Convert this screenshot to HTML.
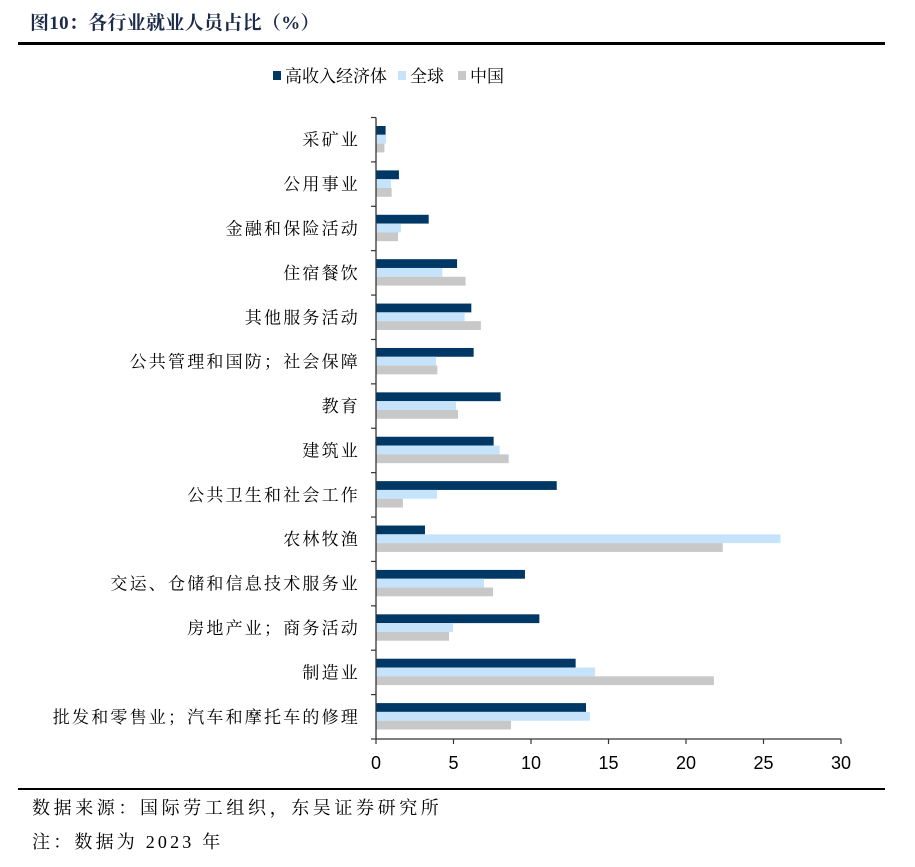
<!DOCTYPE html>
<html><head><meta charset="utf-8">
<style>
body{margin:0;background:#fff;}
#wrap{position:relative;width:915px;height:867px;overflow:hidden;font-family:"Liberation Serif","Noto Serif CJK SC",serif;}
.t{position:absolute;white-space:nowrap;}
</style></head>
<body>
<div id="wrap">
<div class="t" style="left:30px;top:8px;font-size:19px;font-weight:bold;color:#1d2b4a;letter-spacing:0.3px;font-family:'Liberation Serif','Noto Serif CJK SC',serif;">图10：各行业就业人员占比（%）</div>
<div style="position:absolute;left:18px;top:42px;width:867px;height:3px;background:#000;"></div>
<svg id="chart" width="915" height="867" style="position:absolute;left:0;top:0;"></svg>
<div style="position:absolute;left:18px;top:788px;width:867px;height:2px;background:#000;"></div>
<div class="t" style="left:32px;top:794px;font-size:18px;letter-spacing:3.6px;">数据来源：国际劳工组织，东吴证券研究所</div>
<div class="t" style="left:32px;top:828px;font-size:18px;letter-spacing:3.2px;">注：数据为 2023 年</div>
</div>
<script>
const categories=["采矿业","公用事业","金融和保险活动","住宿餐饮","其他服务活动","公共管理和国防；社会保障","教育","建筑业","公共卫生和社会工作","农林牧渔","交运、仓储和信息技术服务业","房地产业；商务活动","制造业","批发和零售业；汽车和摩托车的修理"];
const highIncome=[0.62,1.48,3.4,5.23,6.15,6.3,8.04,7.59,11.66,3.16,9.61,10.54,12.88,13.55];
const world=[0.65,0.97,1.61,4.28,5.72,3.87,5.16,7.98,3.94,26.1,6.97,4.97,14.13,13.8];
const china=[0.54,1.01,1.42,5.78,6.77,3.96,5.29,8.56,1.74,22.37,7.55,4.71,21.8,8.71];
const seriesNames=["高收入经济体","全球","中国"];
const xTicks=[0,5,10,15,20,25,30];

const NS="http://www.w3.org/2000/svg";
const svg=document.getElementById('chart');
const X0=376,X1=841,XMAX=30,YT=117.5,YB=739;
const band=(YB-YT)/categories.length;
function xs(v){return X0+(v/XMAX)*(X1-X0);}
function ys(i){return YT+i*band;}
function mk(tag,attrs){const e=document.createElementNS(NS,tag);for(const k in attrs)e.setAttribute(k,attrs[k]);svg.appendChild(e);return e;}
const colors=["#003865","#c5e4fc","#c8c8c8"];
const series=[highIncome,world,china];
const bh=8.8;
series.forEach((s,si)=>{
  s.forEach((v,i)=>{
    const r=mk('rect',{x:X0,y:ys(i)+band/2-1.5*bh+si*bh-0.5,width:xs(v)-X0,height:bh,fill:colors[si]});
    
    
  });
});
let a=mk('line',{x1:X0,y1:YT,x2:X0,y2:YB,stroke:'#333','stroke-width':1.3});


a=mk('line',{x1:X0,y1:YB,x2:X1,y2:YB,stroke:'#333','stroke-width':1.3});


for(let i=0;i<=categories.length;i++){
  const t=mk('line',{x1:X0-5,y1:ys(i),x2:X0,y2:ys(i),stroke:'#333','stroke-width':1.2});
  
  
}
categories.forEach((c,i)=>{
  const t=mk('text',{x:360,y:ys(i)+band/2+6,'text-anchor':'end','font-size':17,'letter-spacing':2.2,fill:'#000','font-family':'"Liberation Serif","Noto Serif CJK SC",serif'});
  t.textContent=c;
  
  
});
xTicks.forEach(v=>{
  const t=mk('line',{x1:xs(v),y1:YB,x2:xs(v),y2:YB+5,stroke:'#333','stroke-width':1.2});
  
  
  const l=mk('text',{x:xs(v),y:769,'text-anchor':'middle','font-size':18,fill:'#000','font-family':'"Liberation Sans",sans-serif'});
  l.textContent=v;
  
  
});
const lx=[273,398,458];
seriesNames.forEach((n,i)=>{
  const r=mk('rect',{x:lx[i],y:71,width:8,height:9,fill:colors[i]});
  
  
  const t=mk('text',{x:lx[i]+12,y:82,'font-size':17,fill:'#000','font-family':'"Liberation Serif","Noto Serif CJK SC",serif'});
  t.textContent=n;
  
  
});
</script>
</body></html>
